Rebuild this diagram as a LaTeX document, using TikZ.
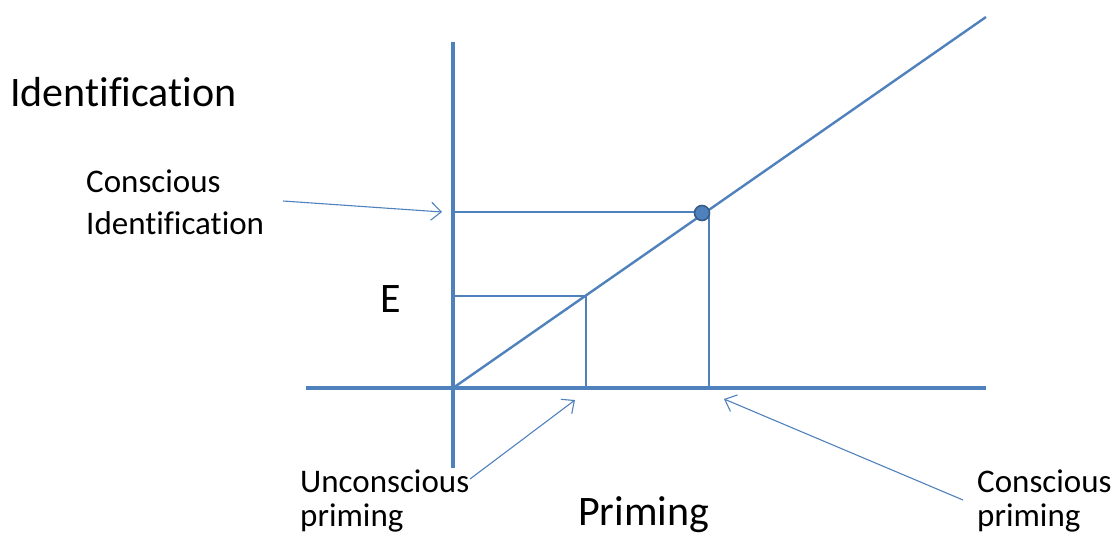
\documentclass[tikz,border=0pt]{standalone}
\usepackage{fontspec}
\setmainfont[Ligatures=NoCommon]{Carlito}
\usetikzlibrary{arrows.meta}
\definecolor{axisblue}{RGB}{79,129,189}
\definecolor{dotedge}{RGB}{56,93,138}
\begin{document}
\begin{tikzpicture}[x=1pt,y=-1pt,
  axis/.style={axisblue,line width=4.2pt},
  diag/.style={axisblue,line width=2.4pt},
  guide/.style={axisblue,line width=1.5pt},
  pointer/.style={axisblue,line width=1.1pt,-{Straight Barb[length=10pt,width=18pt]}},
  lbl/.style={inner sep=0,anchor=base west,font=\fontsize{33}{40}\selectfont},
  big/.style={inner sep=0,anchor=base west,font=\fontsize{42}{50}\selectfont}]
\path[use as bounding box] (0,0) rectangle (1114,536);
% coordinates
\coordinate (O) at (453,388);
\coordinate (ytop) at (453,42);
\coordinate (ybot) at (453,468);
\coordinate (xl) at (306,388);
\coordinate (xr) at (986,388);
\coordinate (dend) at (986,17);
\coordinate (E1) at (453,296);
\coordinate (E2) at (586,296);
\coordinate (E3) at (586,388);
\coordinate (C1) at (453,212);
\coordinate (C2) at (702,212);
\coordinate (C3) at (709,214);
\coordinate (C4) at (709,388);
% axes and lines
\draw[guide] (E1) -- (E2) -- (E3);
\draw[guide] (C1) -- (C2);
\draw[guide] (C3) -- (C4);
\draw[axis] (ytop) -- (ybot);
\draw[axis] (xl) -- (xr);
\draw[diag] (O) -- (dend);
\node[circle,fill=axisblue,draw=dotedge,line width=1.6pt,minimum size=15pt,inner sep=0] (dot) at (702,213) {};
% labels
\node[big] (ylab) at (10,106) {Identification};
\node[lbl] (ci1) at (86,192) {Conscious};
\node[lbl] (ci2) at (86,234) {Identification};
\node[big] (elab) at (380,312) {E};
\node[lbl] (up1) at (300,492) {Unconscious};
\node[lbl] (up2) at (300,526) {priming};
\node[big] (xlab) at (578,525) {Priming};
\node[lbl] (cp1) at (977,492) {Conscious};
\node[lbl] (cp2) at (977,526) {priming};
% pointers
\coordinate (a1s) at (283,201);
\coordinate (a1e) at (442,212);
\coordinate (a2s) at (470,479);
\coordinate (a2e) at (575,400);
\coordinate (a3s) at (963,500);
\coordinate (a3e) at (724,399);
\draw[pointer] (a1s) -- (a1e);
\draw[pointer] (a2s) -- (a2e);
\draw[pointer] (a3s) -- (a3e);
\end{tikzpicture}
\end{document}
